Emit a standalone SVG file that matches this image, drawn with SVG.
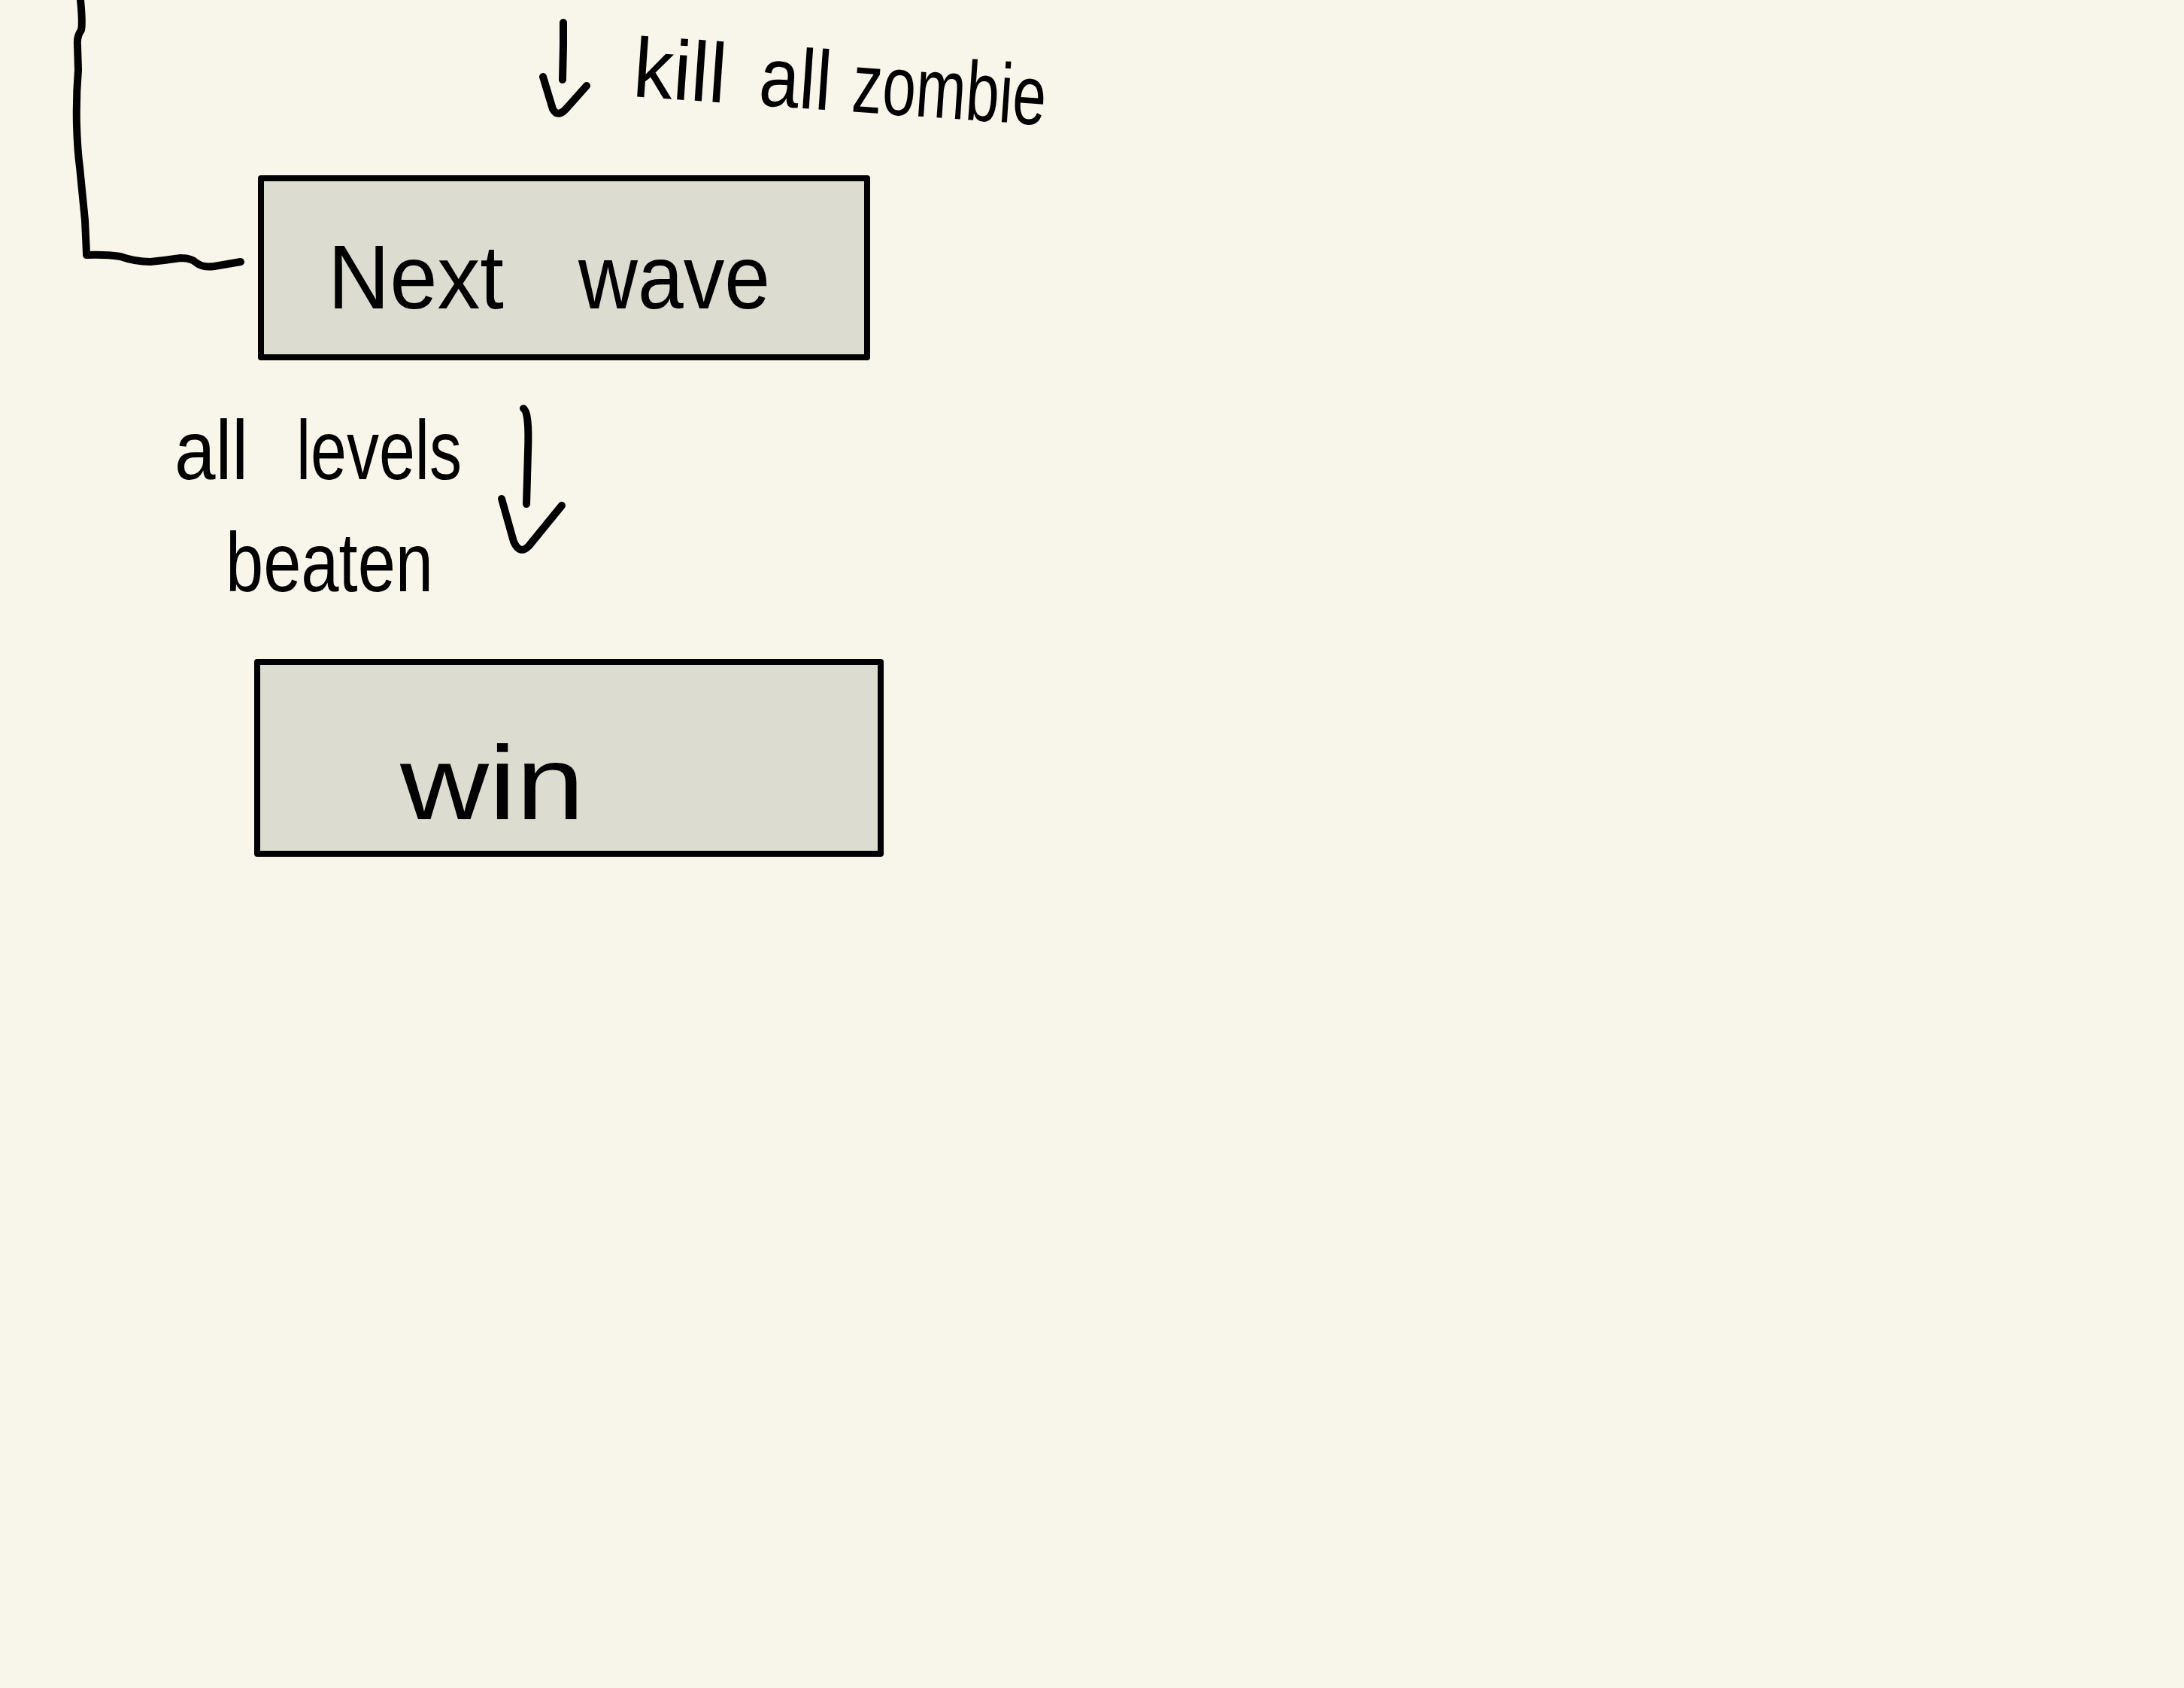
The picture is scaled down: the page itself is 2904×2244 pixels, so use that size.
<svg xmlns="http://www.w3.org/2000/svg" width="2904" height="2244" viewBox="0 0 2904 2244">
<style>
.bg{fill:#f8f6ea}
.box{fill:#dcdcd0;stroke:#000;stroke-width:8;stroke-linejoin:round}
.ln{fill:none;stroke:#000;stroke-width:10;stroke-linecap:round;stroke-linejoin:round}
.t{font-family:"Liberation Sans","DejaVu Sans",sans-serif;fill:#000}
</style>
<rect class="bg" x="0" y="0" width="2904" height="2244"/>
<g id="connectors">
<path class="ln" d="M107,0 Q110,30 108,40 Q102,48 103,60 L104,93 Q101,130 102,167 Q103,200 106,222 L113,293 L115,337 M115,339 Q140,338 160,341 Q180,348 200,348 Q220,346 240,343 Q255,343 262,350 Q270,356 285,354 L320,348"/>
<g id="arrow-kill">
<path class="ln" d="M749,30 L749,60 L748,106"/>
<path class="ln" d="M722,102 L735,145 Q742,158 755,142 L780,114"/>
</g>
<g id="arrow-levels">
<path class="ln" d="M696,543 Q704,548 702,600 L700,670"/>
<path class="ln" d="M667,663 L683,720 Q691,738 703,726 L747,672"/>
</g>
</g>
<g id="label-kill">
<text class="t" font-size="112" transform="rotate(4 840 128)" y="128"><tspan x="840" textLength="124" lengthAdjust="spacingAndGlyphs">kill</tspan><tspan x="1008" textLength="96" lengthAdjust="spacingAndGlyphs">all</tspan><tspan x="1132" textLength="258" lengthAdjust="spacingAndGlyphs">zombie</tspan></text>
</g>
<g id="label-levels">
<text class="t" y="637" font-size="112"><tspan x="232" textLength="98" lengthAdjust="spacingAndGlyphs">all</tspan><tspan x="394" textLength="220" lengthAdjust="spacingAndGlyphs">levels</tspan></text>
<text class="t" x="300" y="786" font-size="112" textLength="276" lengthAdjust="spacingAndGlyphs">beaten</text>
</g>
<g id="node-next-wave">
<rect class="box" x="347" y="237" width="806" height="238"/>
<text class="t" y="410" font-size="120"><tspan x="436" textLength="234" lengthAdjust="spacingAndGlyphs">Next</tspan><tspan x="769" textLength="255" lengthAdjust="spacingAndGlyphs">wave</tspan></text>
</g>
<g id="node-win">
<rect class="box" x="342" y="880" width="829" height="255"/>
<text class="t" x="532" y="1089" font-size="140" textLength="245" lengthAdjust="spacingAndGlyphs">win</text>
</g>
</svg>
